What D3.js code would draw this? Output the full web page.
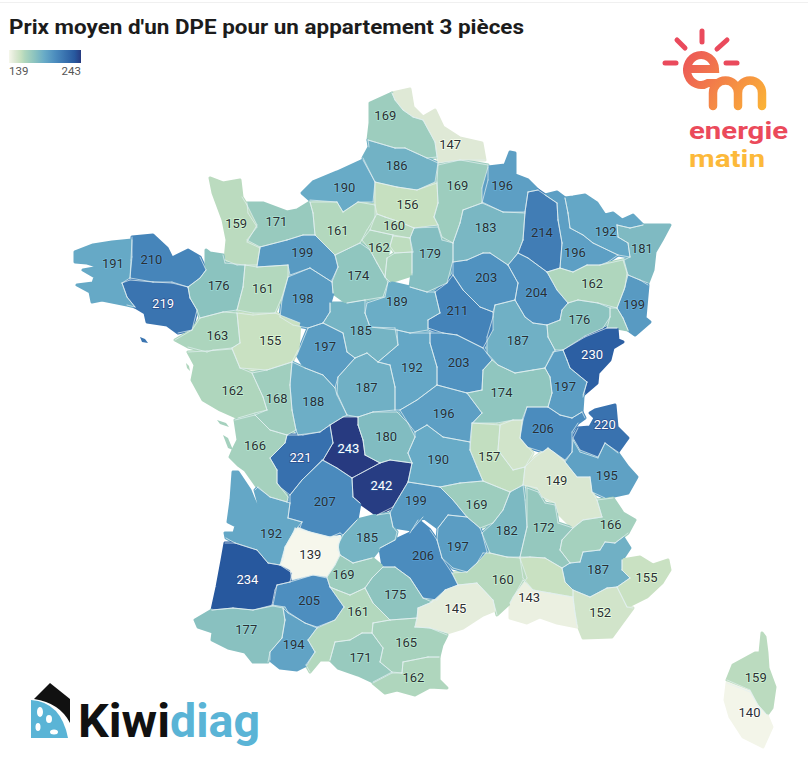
<!DOCTYPE html>
<html lang="fr">
<head>
<meta charset="utf-8">
<title>Prix moyen d'un DPE</title>
<script src="https://cdn.jsdelivr.net/npm/d3@7"></script>
<style>
  html, body { margin: 0; padding: 0; background: #fff; }
  svg { display: block; }
  text { font-family: Roboto, sans-serif; }
</style>
</head>
<body>
<svg id="chart" width="808" height="784"></svg>
<script>
const titleText = "Prix moyen d'un DPE pour un appartement 3 pièces";
const legendTicks = [139, 243];
const colorStops = [139, 147, 156, 162, 176, 190, 206, 219, 234, 243];
const colorRange = ['#f6f7ec', '#dfe9d6', '#c6e0c0', '#afd6bd', '#8bc3bf', '#68abc7', '#4b8cbe', '#3a74b0', '#27589e', '#273a80'];

// departements without a printed number in the reference
const unlabelled = ['75', '69', '84', '91', '90'];

const deptCodes = ['59', '62', '80', '76', '27', '60', '95', '78', '75', '91', '77', '02', '08', '51', '55', '57', '54', '67', '68', '88',
  '70', '90', '25', '39', '21', '52', '10', '89', '58', '71', '01', '74', '73', '38', '69', '42', '43', '07', '26', '05',
  '04', '06', '83', '13', '84', '30', '48', '12', '15', '19', '87', '23', '03', '63', '18', '36', '37', '41', '45', '28',
  '72', '61', '14', '50', '22', '29', '56', '35', '53', '49', '44', '85', '79', '86', '16', '17', '33', '24', '46', '47',
  '82', '81', '34', '11', '66', '09', '31', '32', '40', '65', '64', '2B', '2A'];

const deptValues = [147, 169, 186, 190, 161, 156, 160, 162, 158, 163, 179, 169, 196, 183, 214, 192, 196, 181, 199, 162,
  176, 170, 230, 197, 187, 204, 203, 211, 203, 174, 206, 220, 195, 149, 152, 157, 169, 182, 172, 166,
  187, 155, 152, 143, 155, 160, 197, 206, 199, 242, 243, 180, 196, 190, 192, 187, 197, 185, 189, 174,
  198, 199, 171, 159, 210, 191, 219, 176, 161, 155, 163, 162, 168, 188, 221, 166, 192, 207, 185, 139,
  169, 175, 145, 165, 162, 171, 161, 205, 234, 194, 177, 159, 140];

// outlines, in page pixels
const deptRings = [
  [[392,93],[410,89],[413,107],[423,117],[435,110],[443,127],[460,138],[482,143],[485,160],[460,160],[438,163],[435,142],[423,120],[413,117],[403,110],[395,100]],
  [[370,103],[392,93],[395,100],[403,110],[413,117],[423,120],[435,142],[437,157],[427,158],[405,148],[395,148],[368,140],[370,123]],
  [[368,140],[395,148],[405,148],[427,158],[438,163],[435,182],[417,190],[397,187],[375,182],[363,158],[369,147]],
  [[302,193],[313,182],[337,172],[363,160],[375,182],[373,202],[358,202],[343,212],[337,202],[310,200]],
  [[310,202],[337,202],[343,212],[358,202],[375,205],[375,217],[367,230],[360,243],[335,255],[315,235],[313,213]],
  [[375,182],[397,187],[417,190],[437,183],[438,203],[434,217],[438,225],[414,228],[400,222],[385,217],[377,214],[375,205]],
  [[375,217],[377,214],[385,217],[400,222],[414,228],[410,238],[393,235],[370,230]],
  [[362,240],[370,230],[393,235],[390,246],[387,258],[385,277],[377,263],[370,250]],
  [[393,236],[410,238],[413,252],[395,253],[390,246]],
  [[387,258],[395,253],[412,252],[412,275],[390,282],[385,277]],
  [[414,228],[438,227],[442,240],[453,243],[453,260],[447,283],[427,292],[410,287],[412,273],[412,252],[410,238]],
  [[437,182],[438,165],[460,160],[488,165],[488,180],[482,203],[463,210],[460,223],[453,243],[442,237],[438,225],[434,217],[438,203]],
  [[488,167],[505,165],[510,152],[515,153],[515,175],[528,180],[538,190],[528,192],[525,212],[503,212],[482,202],[482,188]],
  [[482,203],[503,212],[525,213],[523,240],[518,253],[508,265],[490,253],[483,253],[467,260],[453,262],[453,243],[460,223],[463,210]],
  [[528,192],[538,190],[557,203],[558,220],[562,243],[560,268],[547,272],[528,258],[518,253],[523,240],[525,212]],
  [[565,198],[573,197],[585,195],[597,203],[605,215],[613,213],[622,220],[633,215],[643,225],[630,228],[617,225],[618,237],[628,243],[630,257],[618,255],[593,243],[583,235],[570,228],[568,213]],
  [[545,195],[557,192],[565,198],[568,213],[570,228],[583,235],[593,243],[618,255],[608,262],[600,265],[587,265],[573,272],[560,268],[562,243],[558,220],[557,203]],
  [[643,225],[670,225],[662,240],[655,252],[653,270],[648,283],[640,280],[628,275],[624,260],[630,257],[628,243],[618,237],[617,225],[630,228]],
  [[628,275],[640,280],[648,285],[646,307],[645,318],[650,322],[635,335],[628,330],[623,318],[617,308],[624,290]],
  [[547,272],[560,268],[573,272],[587,265],[600,265],[623,260],[627,273],[625,287],[617,308],[598,303],[578,300],[568,303],[557,290]],
  [[568,303],[578,300],[598,303],[610,308],[610,317],[603,328],[585,336],[563,350],[555,350],[548,337],[547,325],[560,320],[562,310]],
  [[610,308],[617,308],[623,318],[628,330],[617,328],[607,328],[610,317]],
  [[563,350],[585,337],[607,328],[617,328],[618,340],[623,342],[613,348],[610,360],[598,373],[597,383],[583,395],[587,382],[570,368],[567,360]],
  [[553,352],[563,350],[567,360],[570,368],[587,382],[583,397],[582,412],[572,418],[560,415],[548,407],[552,393],[550,377],[545,368]],
  [[495,305],[515,300],[525,317],[533,323],[547,325],[548,337],[555,350],[545,368],[533,370],[515,373],[498,365],[487,353],[487,337],[493,317]],
  [[508,265],[518,253],[528,258],[547,272],[557,290],[568,303],[562,310],[560,320],[547,325],[533,323],[525,317],[515,300],[518,283]],
  [[453,262],[467,260],[483,253],[490,253],[508,265],[518,283],[515,300],[495,305],[493,312],[480,307],[463,290],[453,275]],
  [[447,283],[453,275],[463,290],[480,307],[493,312],[493,330],[483,348],[457,335],[443,333],[428,328],[428,320],[440,313],[435,292]],
  [[430,333],[443,333],[457,335],[483,348],[492,360],[483,370],[482,390],[467,393],[437,385],[437,367],[430,343]],
  [[492,360],[498,365],[515,373],[533,370],[545,368],[550,377],[552,393],[548,407],[527,407],[522,420],[513,420],[497,423],[473,423],[482,413],[467,393],[482,390],[483,370]],
  [[527,407],[548,407],[560,415],[572,418],[582,412],[585,418],[578,423],[572,432],[572,452],[565,460],[555,453],[548,448],[543,452],[527,447],[520,438],[523,420]],
  [[595,410],[615,405],[617,427],[628,438],[618,452],[605,443],[598,457],[580,450],[573,438],[578,428],[590,427],[595,418],[590,413]],
  [[573,440],[580,452],[598,458],[605,443],[618,453],[628,467],[637,477],[628,493],[605,498],[592,492],[590,477],[577,477],[565,462],[572,452]],
  [[548,448],[555,453],[565,462],[577,477],[590,477],[592,492],[597,500],[602,517],[583,520],[573,528],[558,513],[555,503],[542,497],[537,488],[523,485],[525,467],[535,457]],
  [[500,425],[513,420],[522,420],[520,438],[533,453],[525,467],[513,470],[498,450]],
  [[472,423],[500,425],[498,450],[513,470],[525,467],[523,485],[510,492],[483,481],[477,467],[470,450]],
  [[440,487],[460,483],[483,481],[510,492],[503,510],[493,523],[480,528],[467,517],[453,500]],
  [[523,485],[525,500],[527,527],[520,557],[507,557],[490,553],[482,533],[493,523],[503,510],[510,492]],
  [[527,488],[538,492],[545,503],[555,505],[558,523],[573,528],[562,540],[560,550],[570,563],[562,568],[545,558],[530,557],[520,557],[527,527]],
  [[597,500],[613,498],[623,513],[635,520],[628,533],[623,537],[615,543],[605,542],[600,550],[583,552],[580,562],[570,563],[560,550],[562,540],[573,528],[583,520],[602,517]],
  [[583,552],[600,550],[605,542],[615,543],[623,537],[630,548],[622,560],[622,570],[630,578],[617,587],[607,588],[590,597],[573,590],[565,582],[562,568],[570,563],[580,562]],
  [[622,560],[640,557],[653,565],[668,560],[670,570],[662,583],[647,597],[627,607],[617,587],[630,578],[622,570]],
  [[573,590],[590,597],[607,588],[617,587],[627,607],[633,608],[622,623],[612,637],[583,638],[577,623],[575,613],[573,597]],
  [[510,603],[523,580],[533,590],[550,593],[573,597],[575,613],[577,627],[557,623],[540,617],[527,623],[510,618]],
  [[520,558],[530,557],[545,558],[562,568],[565,582],[573,590],[573,597],[550,593],[533,590],[523,578]],
  [[483,553],[490,553],[507,557],[520,558],[527,578],[513,597],[510,603],[497,615],[493,600],[477,583],[458,585],[452,573],[467,572],[477,563]],
  [[438,528],[448,515],[467,517],[480,528],[482,533],[487,552],[477,563],[467,572],[453,568],[442,558],[437,540]],
  [[380,548],[395,540],[410,533],[418,520],[430,530],[437,540],[442,558],[452,573],[458,585],[445,590],[437,600],[423,598],[410,578],[395,567],[383,567]],
  [[408,482],[440,487],[453,500],[467,517],[448,515],[438,528],[423,517],[412,530],[393,527],[390,513],[393,507]],
  [[352,478],[380,463],[390,460],[412,463],[408,482],[393,507],[377,515],[360,503],[353,497]],
  [[330,425],[343,417],[358,417],[358,425],[363,440],[365,455],[380,463],[352,478],[337,468],[323,460],[333,443]],
  [[358,417],[373,412],[397,412],[408,423],[415,437],[408,453],[412,463],[390,460],[380,463],[365,455],[363,440],[358,425]],
  [[400,410],[417,400],[437,385],[467,393],[482,413],[472,423],[470,442],[443,437],[427,425],[415,432],[408,423]],
  [[415,432],[427,425],[443,437],[470,442],[470,450],[477,467],[483,481],[460,483],[440,487],[408,482],[412,463],[408,453],[415,437]],
  [[397,330],[410,333],[430,333],[430,343],[437,367],[437,385],[417,400],[400,410],[395,410],[395,387],[390,365],[378,362],[398,345]],
  [[337,393],[338,377],[355,358],[367,353],[378,362],[390,365],[395,387],[395,410],[373,412],[358,417],[347,415]],
  [[297,355],[308,328],[323,323],[343,333],[347,352],[355,358],[338,377],[335,388],[323,375],[305,368]],
  [[323,323],[330,312],[330,303],[347,303],[365,300],[365,313],[370,327],[395,328],[398,345],[378,362],[367,353],[355,358],[347,352],[343,333]],
  [[367,303],[385,297],[388,282],[410,287],[427,292],[435,292],[440,313],[428,320],[428,330],[410,333],[397,330],[370,327],[365,313]],
  [[335,255],[360,243],[370,250],[377,263],[385,277],[388,282],[383,297],[365,300],[347,303],[333,293],[332,280],[338,267]],
  [[288,277],[310,268],[332,282],[333,293],[330,303],[330,312],[323,323],[308,328],[293,325],[280,317],[282,300]],
  [[260,247],[287,240],[303,235],[315,235],[335,255],[338,267],[332,282],[310,268],[290,275],[288,265],[257,267]],
  [[247,203],[263,203],[287,212],[297,210],[310,202],[313,213],[315,235],[303,235],[287,240],[260,247],[247,240],[257,227],[248,213]],
  [[210,178],[223,183],[240,180],[242,197],[247,205],[257,225],[247,242],[260,248],[257,265],[237,265],[225,260],[227,240],[223,220],[213,193]],
  [[132,237],[153,235],[167,248],[172,258],[188,250],[200,257],[206,270],[200,278],[188,287],[172,282],[153,282],[130,278],[132,257]],
  [[75,252],[93,245],[112,242],[132,240],[131,260],[130,278],[122,283],[127,297],[135,307],[127,305],[102,300],[92,302],[90,292],[77,285],[93,283],[95,277],[83,270],[100,267],[87,263],[75,262]],
  [[122,283],[130,280],[153,282],[172,283],[188,287],[190,298],[197,310],[192,330],[178,333],[167,325],[147,322],[145,313],[135,307],[127,297]],
  [[206,250],[210,253],[223,255],[225,263],[245,265],[243,287],[237,310],[223,312],[200,318],[197,310],[190,298],[188,287],[200,278],[206,270]],
  [[245,265],[257,267],[288,265],[288,277],[282,297],[275,313],[253,313],[237,310],[243,287]],
  [[237,313],[253,315],[275,313],[300,323],[298,350],[292,362],[267,370],[240,368],[232,348],[240,343]],
  [[200,318],[223,312],[237,313],[240,343],[232,348],[213,350],[207,352],[188,347],[175,340],[192,330]],
  [[188,352],[207,351],[232,349],[240,368],[252,373],[263,397],[267,410],[255,413],[238,418],[220,410],[203,400],[192,380],[195,365]],
  [[252,373],[267,370],[292,362],[290,385],[292,410],[296,430],[287,435],[270,430],[255,415],[267,410],[263,397]],
  [[292,362],[305,368],[323,375],[335,388],[337,395],[347,415],[343,417],[330,425],[320,432],[298,435],[296,430],[292,410],[290,385]],
  [[330,425],[333,443],[323,460],[302,480],[290,495],[280,487],[277,483],[277,470],[270,458],[285,443],[287,435],[303,435],[320,432]],
  [[235,420],[255,415],[270,430],[287,435],[285,443],[270,458],[277,470],[277,483],[288,497],[287,502],[270,497],[257,487],[245,470],[238,465],[230,457],[233,450],[238,440]],
  [[233,472],[238,472],[250,490],[257,507],[260,508],[255,490],[258,487],[270,497],[287,502],[290,503],[288,518],[302,522],[293,533],[285,547],[283,560],[280,565],[268,563],[257,550],[235,543],[226,538],[225,533],[234,533],[236,526],[228,522],[231,500]],
  [[322,460],[337,468],[352,478],[353,497],[360,503],[357,520],[343,535],[340,533],[330,537],[310,532],[300,528],[302,522],[288,518],[290,503],[290,495],[302,480]],
  [[343,535],[357,520],[377,515],[390,513],[393,527],[397,532],[395,540],[380,548],[372,558],[353,563],[340,555],[338,545]],
  [[295,528],[310,532],[330,537],[340,537],[338,550],[340,555],[335,565],[327,577],[313,575],[292,580],[290,570],[280,565],[285,547],[293,533]],
  [[330,587],[327,577],[335,565],[340,555],[353,563],[372,558],[383,567],[372,578],[365,588],[350,595],[337,590]],
  [[383,567],[395,567],[410,578],[423,598],[432,602],[418,608],[417,618],[390,620],[373,603],[365,588],[372,578]],
  [[418,608],[432,602],[445,590],[458,585],[477,583],[493,600],[495,610],[483,615],[463,628],[447,633],[430,628],[415,627],[417,618]],
  [[373,623],[390,620],[417,618],[415,627],[430,628],[447,635],[442,645],[439,657],[428,657],[403,662],[402,673],[392,672],[380,662],[383,648],[372,633]],
  [[373,683],[392,673],[402,673],[403,662],[428,657],[439,657],[439,680],[447,688],[430,687],[415,695],[397,690],[385,693]],
  [[335,642],[350,640],[362,633],[372,633],[383,648],[380,662],[392,672],[373,682],[358,675],[338,668],[330,660]],
  [[330,587],[337,590],[350,595],[365,588],[373,603],[390,620],[373,623],[372,633],[362,633],[350,640],[335,642],[330,660],[320,660],[310,672],[306,665],[315,652],[308,640],[317,628],[335,620],[344,607]],
  [[277,585],[290,582],[313,575],[327,578],[330,587],[344,607],[335,620],[317,627],[305,623],[288,612],[285,607],[272,605],[275,590]],
  [[225,543],[235,543],[257,550],[268,563],[280,565],[292,573],[290,582],[277,585],[273,605],[253,610],[233,608],[212,610],[217,587],[222,560]],
  [[283,608],[288,613],[305,623],[317,628],[308,640],[315,652],[307,665],[297,670],[280,668],[270,660],[270,652],[282,638],[285,620]],
  [[195,620],[212,610],[233,608],[253,610],[273,606],[283,608],[285,620],[282,638],[270,652],[268,662],[253,662],[245,652],[228,648],[212,640],[213,632],[198,627]],
  [[762,633],[765,637],[767,653],[768,668],[775,687],[772,708],[767,715],[758,705],[750,690],[727,680],[733,665],[755,653],[760,653]],
  [[727,683],[750,692],[758,705],[767,715],[772,727],[763,747],[743,737],[730,717],[725,700]]
];

// coastal islands, drawn in the colour of their departement
const islandDepts = ['17', '17', '56', '85'];
const islandRings = [
  [[217,420],[226,423],[229,427],[220,424]],
  [[223,435],[228,438],[233,450],[228,448]],
  [[140,337],[145,339],[148,343],[142,342]],
  [[186,363],[189,366],[190,371],[187,368]]
];

// the printed numbers do not sit exactly on the traced centroids
const labelNudge = {
  '62': [-14, -13], '59': [8, 10], '80': [-3, -1], '27': [-4, 6], '95': [3, -2], '77': [0, -6], '02': [-1, -8], '08': [-4, -2],
  '51': [-3, -6], '57': [7, 7], '54': [-2, 10], '89': [-4, -5], '45': [-6, -8], '72': [-4, -1], '61': [2, -4], '14': [-3, -2],
  '22': [-12, -4], '29': [5, -7], '35': [1, -1], '44': [4, 2], '49': [4, -1], '85': [6, 7], '37': [0, -6], '71': [-9, -1],
  '01': [-6, -2], '74': [4, -8], '63': [-3, -1], '42': [-4, -2], '38': [-6, -7], '73': [4, 4], '17': [-4, -9], '15': [-7, -6],
  '43': [-2, 4], '07': [-2, 3], '26': [0, -4], '05': [14, -7], '33': [11, 12], '12': [3, -6], '48': [-3, 4], '06': [5, -2],
  '30': [7, 2], '13': [-13, -9], '82': [-9, 0], '31': [13, -13], '2A': [2, -3], '10': [0, -3], '70': [2, -4]
};

const svg = d3.select('#chart');
const defs = svg.append('defs');

const color = d3.scaleLinear().domain(colorStops).range(colorRange).interpolate(d3.interpolateRgb);
const path = d3.geoPath();

const polygon = ring => ({ type: 'Polygon', coordinates: [ring.concat([ring[0]])] });
const valueByCode = new Map(deptCodes.map((c, i) => [c, deptValues[i]]));

function distToSegment(p, a, b) {
  const dx = b[0] - a[0], dy = b[1] - a[1];
  const t = Math.max(0, Math.min(1, ((p[0] - a[0]) * dx + (p[1] - a[1]) * dy) / (dx * dx + dy * dy || 1)));
  return Math.hypot(p[0] - a[0] - t * dx, p[1] - a[1] - t * dy);
}

// an edge is a border when another departement runs alongside it, otherwise it is coast
function isBorder(mid, i) {
  return deptRings.some((ring, j) => j !== i && ring.some((a, k) => distToSegment(mid, a, ring[(k + 1) % ring.length]) < 4));
}

const borderSegments = [];
deptRings.forEach((ring, i) => {
  ring.forEach((a, k) => {
    const b = ring[(k + 1) % ring.length];
    if (isBorder([(a[0] + b[0]) / 2, (a[1] + b[1]) / 2], i)) borderSegments.push([a, b]);
  });
});

// faint rule at the very top of the page
svg.append('line').attr('x1', 0).attr('x2', 808).attr('y1', 2.5).attr('y2', 2.5)
  .attr('stroke', '#f0f0f0').attr('stroke-width', 1);

svg.append('text').attr('x', 9).attr('y', 34)
  .attr('font-size', 21).attr('font-weight', 700).attr('fill', '#1c1c1c')
  .attr('textLength', 515).attr('lengthAdjust', 'spacingAndGlyphs')
  .text(titleText);

// legend
const legendX = d3.scaleLinear().domain(d3.extent(legendTicks)).range([9, 81]);
const legendGrad = defs.append('linearGradient').attr('id', 'legend-grad');
colorStops.forEach(v => {
  legendGrad.append('stop')
    .attr('offset', `${(legendX(v) - 9) / 72 * 100}%`)
    .attr('stop-color', color(v));
});
svg.append('rect').attr('x', legendX(139)).attr('y', 50)
  .attr('width', legendX(243) - legendX(139)).attr('height', 13)
  .attr('fill', 'url(#legend-grad)');
svg.selectAll('.legend-tick').data(legendTicks).enter().append('text')
  .attr('class', 'legend-tick')
  .attr('x', d => legendX(d))
  .attr('y', 75)
  .attr('text-anchor', (d, i) => i ? 'end' : 'start')
  .attr('font-size', 11.5).attr('fill', '#555')
  .text(d => d);

// map
const map = svg.append('g').attr('class', 'map');

map.selectAll('.island').data(islandRings).enter().append('path')
  .attr('class', 'island')
  .attr('d', d => path(polygon(d)))
  .attr('fill', (d, i) => color(valueByCode.get(islandDepts[i])));

// same-colour underlay closes the small gaps left between hand traced outlines
map.selectAll('.dept-under').data(deptCodes).enter().append('path')
  .attr('class', 'dept-under')
  .attr('d', (d, i) => path(polygon(deptRings[i])))
  .attr('fill', (d, i) => color(deptValues[i]))
  .attr('stroke', (d, i) => color(deptValues[i]))
  .attr('stroke-width', 3)
  .attr('stroke-linejoin', 'round');

map.selectAll('.dept').data(deptCodes).enter().append('path')
  .attr('class', 'dept')
  .attr('d', (d, i) => path(polygon(deptRings[i])))
  .attr('fill', (d, i) => color(deptValues[i]));

map.append('path')
  .attr('class', 'dept-borders')
  .attr('d', path({ type: 'MultiLineString', coordinates: borderSegments }))
  .attr('fill', 'none')
  .attr('stroke', '#e4f0f2')
  .attr('stroke-width', 0.7)
  .attr('stroke-linecap', 'round');

const labelled = deptCodes.map((c, i) => {
  const at = path.centroid(polygon(deptRings[i]));
  const nudge = labelNudge[c] || [0, 0];
  return { c, v: deptValues[i], x: at[0] + nudge[0], y: at[1] + nudge[1] };
}).filter(d => !unlabelled.includes(d.c));

map.selectAll('.dept-label').data(labelled).enter().append('text')
  .attr('class', 'dept-label')
  .attr('x', d => d.x)
  .attr('y', d => d.y)
  .attr('dy', '0.35em')
  .attr('text-anchor', 'middle')
  .attr('font-size', 13)
  .attr('paint-order', 'stroke')
  .attr('stroke', d => d.v >= 219 ? '#2a4f8f' : d3.color(color(d.v)).brighter(0.3).formatRgb())
  .attr('stroke-width', 1.5)
  .attr('fill', d => d.v >= 219 ? '#fff' : '#2b2f33')
  .text(d => d.v);

// energie matin logo
const logoGrad = defs.append('linearGradient').attr('id', 'em-grad')
  .attr('gradientUnits', 'userSpaceOnUse')
  .attr('x1', 675).attr('y1', 45).attr('x2', 770).attr('y2', 112);
logoGrad.append('stop').attr('offset', '0%').attr('stop-color', '#ea4a5c');
logoGrad.append('stop').attr('offset', '100%').attr('stop-color', '#fcb934');

const logo = svg.append('g').attr('class', 'logo-em').attr('fill', 'none').attr('stroke-linecap', 'round');
logo.selectAll('line').data([[702, 31, 702, 42], [677, 40, 685, 48], [727, 40, 717, 49], [665, 63, 676, 63], [726, 63, 737, 63]])
  .enter().append('line')
  .attr('x1', d => d[0]).attr('y1', d => d[1]).attr('x2', d => d[2]).attr('y2', d => d[3])
  .attr('stroke', '#ea4a5c').attr('stroke-width', 5);
logo.append('path')
  .attr('d', 'M690,69 L715,69 A14,15 0 1 0 708,83 L716,83')
  .attr('stroke', 'url(#em-grad)').attr('stroke-width', 8);
logo.append('path')
  .attr('d', 'M713,106 V93 A12.5,12.5 0 0 1 738,93 V106 M738,93 A12,12.5 0 0 1 762,93 V106')
  .attr('stroke', 'url(#em-grad)').attr('stroke-width', 8.5);
svg.append('text').attr('x', 689).attr('y', 139)
  .attr('font-family', 'Lato, sans-serif').attr('font-weight', 700).attr('font-size', 23).attr('fill', '#eb4a5b')
  .attr('textLength', 99).attr('lengthAdjust', 'spacingAndGlyphs').text('energie');
svg.append('text').attr('x', 689).attr('y', 167)
  .attr('font-family', 'Lato, sans-serif').attr('font-weight', 700).attr('font-size', 23).attr('fill', '#fcb93a')
  .attr('textLength', 76).attr('lengthAdjust', 'spacingAndGlyphs').text('matin');

// Kiwidiag logo
const kiwi = svg.append('g').attr('class', 'logo-kiwi');
kiwi.append('path').attr('d', 'M34,699 L50,683 L70,699 L70,723 Q60,703 34,699 Z').attr('fill', '#111');
kiwi.append('path').attr('d', 'M31,700 Q61,702 68,738 L31,738 Z').attr('fill', '#5ab4d6');
kiwi.selectAll('ellipse').data([[40, 712, 3, 5], [49, 719, 3, 4], [38, 727, 2.5, 4], [54, 732, 4, 2.5]])
  .enter().append('ellipse')
  .attr('cx', d => d[0]).attr('cy', d => d[1]).attr('rx', d => d[2]).attr('ry', d => d[3])
  .attr('fill', '#fff');
svg.append('text').attr('x', 78).attr('y', 737)
  .attr('font-family', 'Lato, sans-serif').attr('font-weight', 700).attr('font-size', 46).attr('fill', '#111')
  .attr('textLength', 92).attr('lengthAdjust', 'spacingAndGlyphs').text('Kiwi');
svg.append('text').attr('x', 170).attr('y', 737)
  .attr('font-family', 'Lato, sans-serif').attr('font-weight', 700).attr('font-size', 46).attr('fill', '#5ab4d6')
  .attr('textLength', 90).attr('lengthAdjust', 'spacingAndGlyphs').text('diag');
</script>
</body>
</html>
